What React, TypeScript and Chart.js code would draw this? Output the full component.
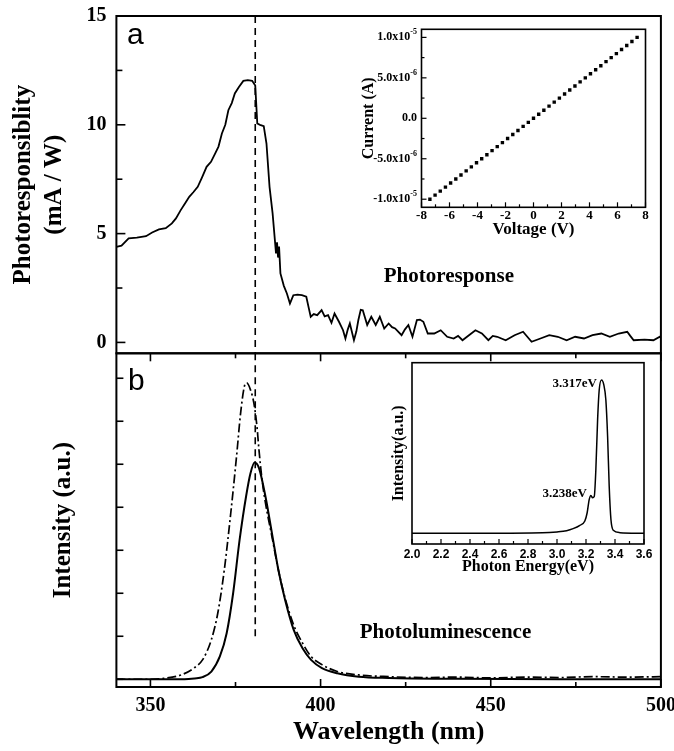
import React, { useEffect, useRef } from 'react';
import { Chart, registerables } from 'chart.js';
Chart.register(...registerables);

const SERIF = "'Liberation Serif', 'Times New Roman', serif";
const SANS = "'Liberation Sans', Arial, sans-serif";

// ---------- Panel a: photoresponse ----------
const prWl = [
  340, 341.5, 343.6, 346, 348.7, 350.5, 352.5, 354.5, 356.3, 357.5,
  358.9, 360.2, 361.4, 362.6, 363.9, 365.2, 366.5, 367.8, 369, 370,
  371, 372, 372.9, 373.9, 374.8, 376, 377.3, 378.6, 379.9, 380.8,
  381.4, 382.2, 383.3, 384.1, 385, 385.9, 386.9, 387.2, 387.5, 387.8,
  388.2, 389.2, 390.1, 391, 392, 393.2, 394.5, 395.8, 396.5, 397.1,
  398, 399, 400.3, 401.2, 402.2, 403.2, 404.1, 405.4, 406.6, 407.3,
  408, 408.6, 409.8, 410.5, 411.1, 411.8, 412.4, 413.7, 414.9, 416.2,
  417.4, 418.7, 420, 421, 421.9, 423.8, 424.8, 425.8, 427, 428.3,
  429.2, 430.2, 431.5, 433.4, 435.3, 437.2, 439.1, 440.4, 441.7, 443.6,
  445.5, 447.4, 449.3, 450.6, 451.9, 454.4, 457, 459.5, 462, 464.6,
  467.2, 469.7, 472.3, 474.8, 477.4, 479.9, 482.5, 485, 487.6, 490.1,
  491, 492, 495.2, 497.8, 499.7, 500,
];
const prResp = [
  4.39, 4.45, 4.78, 4.82, 4.88, 5.05, 5.19, 5.25, 5.47, 5.7,
  6.08, 6.4, 6.69, 6.9, 7.15, 7.6, 8.07, 8.3, 8.68, 9.0,
  9.6, 10.0, 10.67, 11.0, 11.44, 11.74, 12.02, 12.05, 12.02, 11.8,
  10.06, 10.0, 9.94, 9.14, 7.15, 5.93, 4.09, 4.6, 3.9, 4.4,
  3.17, 2.6, 2.25, 1.79, 2.17, 2.2, 2.17, 2.1, 1.6, 1.18,
  1.3, 1.25, 1.48, 1.2, 1.25, 0.9, 1.33, 0.95, 0.56, 0.18,
  0.6, 0.87, 0.1, 0.5, 1.03, 1.5, 1.48, 0.8, 1.18, 0.8,
  1.18, 0.64, 0.87, 0.7, 0.64, 0.33, 0.6, 0.8, 0.26, 1.03,
  1.05, 0.95, 0.41, 0.41, 0.56, 0.26, 0.18, 0.3, 0.1, 0.33,
  0.56, 0.41, 0.1, 0.3, 0.26, 0.1, 0.33, 0.49, 0.03, 0.18,
  0.33, 0.26, 0.1, 0.26, 0.18, 0.33, 0.41, 0.26, 0.41, 0.49,
  0.3, 0.1, 0.13, 0.1, 0.26, 0.2,
];
const prYTicks = [0, 5, 10, 15];
const prYMinor = [2.5, 7.5, 12.5];

// ---------- Panel b: photoluminescence ----------
const plSolidWl = [340, 350, 360, 363, 365.3, 367.9, 370.4, 372.4, 374.3, 376.2, 378.1, 379.4, 380.6, 381.9, 383.8, 385.7, 387.6, 389.6, 392.1, 394.7, 397.2, 400.4, 404.9, 411.2, 420, 440, 470, 500];
const plSolid = [0, 0, 0, 0.02, 0.05, 0.18, 0.53, 1.07, 2.0, 3.24, 4.25, 4.79, 5.04, 4.91, 4.25, 3.4, 2.54, 1.84, 1.15, 0.72, 0.45, 0.26, 0.14, 0.06, 0.03, 0.01, 0, 0];
const plDashWl = [340, 348.8, 353.9, 359, 362.8, 365.3, 367.9, 369.8, 371.7, 373.6, 375.3, 376.5, 377.6, 378.3, 379.4, 380.4, 381.3, 381.9, 382.8, 383.8, 385.7, 387.6, 389.6, 392.1, 394.7, 397.2, 400.4, 404.9, 411.2, 420, 430, 440, 450, 460, 470, 480, 490, 500];
const plDash = [0, 0, 0.02, 0.1, 0.26, 0.45, 0.92, 1.54, 2.54, 3.86, 5.18, 6.19, 6.81, 6.89, 6.73, 6.42, 5.88, 5.33, 4.64, 4.1, 3.32, 2.54, 1.88, 1.26, 0.84, 0.53, 0.34, 0.18, 0.1, 0.06, 0.04, 0.05, 0.03, 0.05, 0.04, 0.06, 0.05, 0.06];
const plYTicks = [0, 1, 2, 3, 4, 5, 6, 7];
const wlMajor = [350, 400, 450, 500];
const wlMinor = [375, 425, 475];

// vertical dashed marker (nm) and its extents
const markerWl = 380.8;
const markerTopA = 15;
const markerBottomA = -0.5;
const markerTopB = 7.58;
const markerBottomB = 0.92;

// ---------- Inset 1: I-V ----------
const ivVolt = [-7.4, -7.03, -6.66, -6.29, -5.92, -5.55, -5.18, -4.81, -4.44, -4.07, -3.7, -3.33, -2.96, -2.59, -2.22, -1.85, -1.48, -1.11, -0.74, -0.37, 0, 0.37, 0.74, 1.11, 1.48, 1.85, 2.22, 2.59, 2.96, 3.33, 3.7, 4.07, 4.44, 4.81, 5.18, 5.55, 5.92, 6.29, 6.66, 7.03, 7.4];
const ivCurrentMicroA = [-10, -9.5, -9, -8.5, -8, -7.5, -7, -6.5, -6, -5.5, -5, -4.5, -4, -3.5, -3, -2.5, -2, -1.5, -1, -0.5, 0, 0.5, 1, 1.5, 2, 2.5, 3, 3.5, 4, 4.5, 5, 5.5, 6, 6.5, 7, 7.5, 8, 8.5, 9, 9.5, 10];
const ivXTicks = [-8, -6, -4, -2, 0, 2, 4, 6, 8];
const ivXMinor = [-7, -5, -3, -1, 1, 3, 5, 7];
const ivYTicks = [10, 5, 0, -5, -10];
const ivYMinor = [7.5, 2.5, -2.5, -7.5];
const ivYLabelMain = ['1.0x10', '5.0x10', '0.0', '-5.0x10', '-1.0x10'];
const ivYLabelExp = ['-5', '-6', '', '-6', '-5'];

// ---------- Inset 2: PL vs photon energy ----------
const peEnergy = [2.0, 2.5, 2.9, 3.0, 3.066, 3.111, 3.158, 3.192, 3.208, 3.222, 3.234, 3.245, 3.257, 3.268, 3.28, 3.291, 3.307, 3.323, 3.337, 3.349, 3.36, 3.372, 3.388, 3.434, 3.6];
const peIntensity = [0, 0, 0.003, 0.009, 0.017, 0.03, 0.052, 0.08, 0.134, 0.22, 0.247, 0.232, 0.24, 0.416, 0.74, 0.935, 1.0, 0.968, 0.87, 0.632, 0.307, 0.09, 0.02, 0.004, 0];
const peXTicks = [2.0, 2.2, 2.4, 2.6, 2.8, 3.0, 3.2, 3.4, 3.6];
const peXMinor = [2.1, 2.3, 2.5, 2.7, 2.9, 3.1, 3.3, 3.5];

type TickSpec = { axis: string; side: 'left' | 'top' | 'bottom'; values: number[]; len: number };
type TextSpec = { text: string; x: number; y: number; font: string; align: CanvasTextAlign; baseline: CanvasTextBaseline };
type SupLabels = { values: number[]; main: string[]; exp: string[]; font: string; expFont: string; gap: number; raise: number };

function deco(cfg: { frame: number; tickWidth: number; ticks: TickSpec[]; texts: TextSpec[]; sup?: SupLabels }) {
  return {
    id: 'deco',
    afterDraw(chart: any) {
      const { ctx, chartArea: a, scales } = chart;
      ctx.save();
      ctx.strokeStyle = '#000';
      ctx.fillStyle = '#000';
      ctx.setLineDash([]);
      ctx.lineWidth = cfg.tickWidth;
      for (const t of cfg.ticks) {
        const s = scales[t.axis];
        for (const v of t.values) {
          const p = s.getPixelForValue(v);
          ctx.beginPath();
          if (t.side === 'left') { ctx.moveTo(a.left, p); ctx.lineTo(a.left + t.len, p); }
          else if (t.side === 'top') { ctx.moveTo(p, a.top); ctx.lineTo(p, a.top + t.len); }
          else { ctx.moveTo(p, a.bottom); ctx.lineTo(p, a.bottom - t.len); }
          ctx.stroke();
        }
      }
      ctx.lineWidth = cfg.frame;
      ctx.strokeRect(a.left, a.top, a.right - a.left, a.bottom - a.top);
      for (const tx of cfg.texts) {
        ctx.font = tx.font;
        ctx.textAlign = tx.align;
        ctx.textBaseline = tx.baseline;
        ctx.fillText(tx.text, scales.x.getPixelForValue(tx.x), scales.y.getPixelForValue(tx.y));
      }
      if (cfg.sup) {
        const sp = cfg.sup;
        const right = a.left - sp.gap;
        sp.values.forEach((v, i) => {
          const py = scales.y.getPixelForValue(v);
          ctx.textBaseline = 'middle';
          ctx.textAlign = 'right';
          ctx.font = sp.expFont;
          const ew = sp.exp[i] ? ctx.measureText(sp.exp[i]).width : 0;
          if (sp.exp[i]) ctx.fillText(sp.exp[i], right, py - sp.raise);
          ctx.font = sp.font;
          ctx.fillText(sp.main[i], right - ew, py);
        });
      }
      ctx.restore();
    },
  };
}

const font = (family: string, size: number, weight: string = 'bold', lineHeight = 1.2) => ({ family, size, weight, lineHeight });

const fixBox = (w?: number, h?: number) => (s: any) => {
  if (w !== undefined) s.width = w;
  if (h !== undefined) s.height = h;
  s.paddingLeft = 0; s.paddingRight = 0; s.paddingTop = 0; s.paddingBottom = 0;
};
const setTicks = (vals: number[]) => (s: any) => { s.ticks = vals.map((v) => ({ value: v })); };
const noGrid = { display: false, drawTicks: false, tickLength: 0 };

const baseOptions = (padding: any) => ({
  responsive: false,
  animation: false as const,
  devicePixelRatio: 1,
  layout: { padding, autoPadding: false },
  plugins: { legend: { display: false }, tooltip: { enabled: false } },
});

function configA(): any {
  return {
    type: 'line',
    data: {
      datasets: [
        { data: prWl.map((x, i) => ({ x, y: prResp[i] })), borderColor: '#000', borderWidth: 1.8, pointRadius: 0, tension: 0 },
        { data: [{ x: markerWl, y: markerTopA }, { x: markerWl, y: markerBottomA }], borderColor: '#000', borderWidth: 1.6, borderDash: [7, 5], pointRadius: 0 },
      ],
    },
    options: {
      ...baseOptions({ top: 16, right: 13.1, bottom: 2.7, left: 0 }),
      scales: {
        x: { type: 'linear', min: 340, max: 500, display: false },
        y: {
          type: 'linear', min: -0.5, max: 15,
          grid: noGrid, border: { display: false },
          afterBuildTicks: setTicks(prYTicks),
          afterFit: fixBox(116.4, undefined),
          ticks: { font: font(SERIF, 20), color: '#000', padding: 10 },
          title: { display: true, text: ['Photoresponsiblity', '(mA / W)'], color: '#000', font: font(SERIF, 25, 'bold', 1.24), padding: { top: 8, bottom: 0 } },
        },
      },
    },
    plugins: [deco({
      frame: 2, tickWidth: 1.6,
      ticks: [
        { axis: 'y', side: 'left', values: prYTicks, len: 9 },
        { axis: 'y', side: 'left', values: prYMinor, len: 6 },
      ],
      texts: [
        { text: 'a', x: 343.1, y: 13.72, font: `30px ${SANS}`, align: 'left', baseline: 'alphabetic' },
        { text: 'Photoresponse', x: 437.7, y: 3.01, font: `bold 21px ${SERIF}`, align: 'center', baseline: 'middle' },
      ],
    })],
  };
}

function configB(): any {
  return {
    type: 'line',
    data: {
      datasets: [
        { data: plSolidWl.map((x, i) => ({ x, y: plSolid[i] })), borderColor: '#000', borderWidth: 2, pointRadius: 0, cubicInterpolationMode: 'monotone' },
        { data: plDashWl.map((x, i) => ({ x, y: plDash[i] })), borderColor: '#000', borderWidth: 1.7, borderDash: [9, 3, 2, 3], pointRadius: 0, cubicInterpolationMode: 'monotone' },
        { data: [{ x: markerWl, y: markerTopB }, { x: markerWl, y: markerBottomB }], borderColor: '#000', borderWidth: 1.6, borderDash: [7, 5], pointRadius: 0 },
      ],
    },
    options: {
      ...baseOptions({ top: 13.3, right: 13.1, bottom: 0, left: 0 }),
      scales: {
        x: {
          type: 'linear', min: 340, max: 500,
          grid: noGrid, border: { display: false },
          afterBuildTicks: setTicks(wlMajor),
          afterFit: fixBox(undefined, 64),
          ticks: { font: font(SERIF, 20), color: '#000', padding: 7, autoSkip: false, maxRotation: 0 },
          title: { display: true, text: 'Wavelength (nm)', color: '#000', font: font(SERIF, 26), padding: { top: 0, bottom: 3.5 } },
        },
        y: {
          type: 'linear', min: -0.18, max: 7.58,
          grid: noGrid, border: { display: false },
          afterFit: fixBox(116.4, undefined),
          ticks: { display: false },
          title: { display: true, text: 'Intensity (a.u.)', color: '#000', font: font(SERIF, 25, 'bold', 1.24), padding: { top: 48.5, bottom: 0 } },
        },
      },
    },
    plugins: [deco({
      frame: 2, tickWidth: 1.6,
      ticks: [
        { axis: 'y', side: 'left', values: plYTicks, len: 7 },
        { axis: 'x', side: 'top', values: wlMajor, len: 8 },
        { axis: 'x', side: 'top', values: wlMinor, len: 5 },
        { axis: 'x', side: 'bottom', values: wlMajor, len: 8 },
        { axis: 'x', side: 'bottom', values: wlMinor, len: 5 },
      ],
      texts: [
        { text: 'b', x: 343.4, y: 6.73, font: `30px ${SANS}`, align: 'left', baseline: 'alphabetic' },
        { text: 'Photoluminescence', x: 436.7, y: 1.09, font: `bold 21px ${SERIF}`, align: 'center', baseline: 'middle' },
      ],
    })],
  };
}

function configIV(): any {
  return {
    type: 'scatter',
    data: {
      datasets: [
        { data: ivVolt.map((x, i) => ({ x, y: ivCurrentMicroA[i] })), pointStyle: 'rect', pointRadius: 2.4, backgroundColor: '#000', borderColor: '#000', borderWidth: 0 },
      ],
    },
    options: {
      ...baseOptions({ top: 9.3, right: 14.5, bottom: 0, left: 0 }),
      scales: {
        x: {
          type: 'linear', min: -8, max: 8,
          grid: noGrid, border: { display: false },
          afterBuildTicks: setTicks(ivXTicks),
          afterFit: fixBox(undefined, 42.7),
          ticks: { font: font(SERIF, 13), color: '#000', padding: 1, autoSkip: false, maxRotation: 0 },
          title: { display: true, text: 'Voltage (V)', color: '#000', font: font(SERIF, 17), padding: { top: 0, bottom: 9.8 } },
        },
        y: {
          type: 'linear', min: -11, max: 11,
          grid: noGrid, border: { display: false },
          afterFit: fixBox(81.5, undefined),
          ticks: { display: false },
          title: { display: true, text: 'Current (A)', color: '#000', font: font(SERIF, 16), padding: { top: 19.4, bottom: 0 } },
        },
      },
    },
    plugins: [deco({
      frame: 1.6, tickWidth: 1.2,
      ticks: [
        { axis: 'y', side: 'left', values: ivYTicks, len: 5 },
        { axis: 'y', side: 'left', values: ivYMinor, len: 3 },
        { axis: 'x', side: 'bottom', values: ivXTicks, len: 5 },
        { axis: 'x', side: 'bottom', values: ivXMinor, len: 3 },
      ],
      texts: [],
      sup: { values: ivYTicks, main: ivYLabelMain, exp: ivYLabelExp, font: `bold 12px ${SERIF}`, expFont: `bold 8px ${SERIF}`, gap: 4.5, raise: 5 },
    })],
  };
}

function configPE(): any {
  return {
    type: 'line',
    data: {
      datasets: [
        { data: peEnergy.map((x, i) => ({ x, y: peIntensity[i] })), borderColor: '#000', borderWidth: 1.5, pointRadius: 0, cubicInterpolationMode: 'monotone' },
      ],
    },
    options: {
      ...baseOptions({ top: 7.7, right: 16, bottom: 0, left: 0 }),
      scales: {
        x: {
          type: 'linear', min: 2.0, max: 3.6,
          grid: noGrid, border: { display: false },
          afterBuildTicks: setTicks(peXTicks),
          afterFit: fixBox(undefined, 41),
          ticks: { font: font(SANS, 12), color: '#000', padding: 3, autoSkip: false, maxRotation: 0, callback: (v: any) => Number(v).toFixed(1) },
          title: { display: true, text: 'Photon Energy(eV)', color: '#000', font: font(SERIF, 16), padding: { top: 0, bottom: 8.4 } },
        },
        y: {
          type: 'linear', min: -0.07, max: 1.113,
          grid: noGrid, border: { display: false },
          afterFit: fixBox(72, undefined),
          ticks: { display: false },
          title: { display: true, text: 'Intensity(a.u.)', color: '#000', font: font(SERIF, 16), padding: { top: 49.4, bottom: 0 } },
        },
      },
    },
    plugins: [deco({
      frame: 1.6, tickWidth: 1.2,
      ticks: [
        { axis: 'x', side: 'bottom', values: peXTicks, len: 5 },
        { axis: 'x', side: 'bottom', values: peXMinor, len: 3 },
      ],
      texts: [
        { text: '3.317eV', x: 3.275, y: 0.974, font: `bold 13px ${SERIF}`, align: 'right', baseline: 'middle' },
        { text: '3.238eV', x: 3.206, y: 0.26, font: `bold 13px ${SERIF}`, align: 'right', baseline: 'middle' },
      ],
    })],
  };
}

function ChartCanvas(props: { left: number; top: number; width: number; height: number; make: () => any }) {
  const ref = useRef<HTMLCanvasElement>(null);
  useEffect(() => {
    const chart = new Chart(ref.current as HTMLCanvasElement, props.make());
    return () => chart.destroy();
  }, []);
  const { left, top, width, height } = props;
  return (
    <canvas
      ref={ref}
      width={width}
      height={height}
      style={{ position: 'absolute', left, top, width, height, display: 'block' }}
    />
  );
}

export default function App() {
  return (
    <div style={{ position: 'absolute', left: 0, top: 0, width: 674, height: 751, background: '#fff', overflow: 'hidden' }}>
      <ChartCanvas left={0} top={0} width={674} height={356} make={configA} />
      <ChartCanvas left={0} top={340} width={674} height={411} make={configB} />
      <ChartCanvas left={340} top={20} width={320} height={230} make={configIV} />
      <ChartCanvas left={340} top={355} width={320} height={230} make={configPE} />
    </div>
  );
}
